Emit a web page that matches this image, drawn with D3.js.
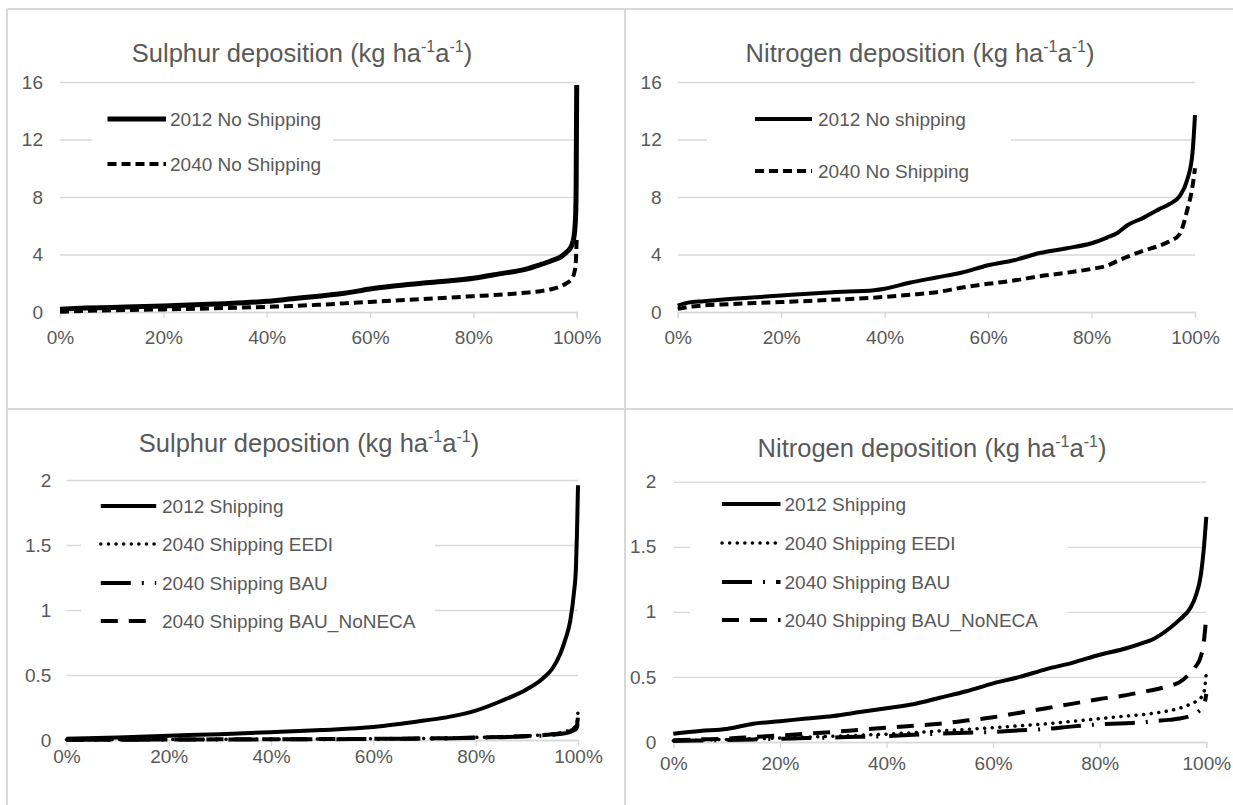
<!DOCTYPE html>
<html>
<head>
<meta charset="utf-8">
<script src="https://cdn.jsdelivr.net/npm/d3@7"></script>
<style>
  body { margin: 0; background: #fff; }
  text { font-family: "Liberation Sans", Arial, sans-serif; fill: #595959; }
</style>
</head>
<body>
<svg id="chart" width="1233" height="805"></svg>
<script>
// ---- data ----
// top-left: sulphur, no shipping
var pctSulNoShip = [0, 5, 10, 20, 30, 40, 45, 50, 55, 60, 65, 70, 75, 80, 85, 90, 93, 95, 97, 98, 99, 99.5, 99.8, 99.9, 100];
var sul2012NoShip = [0.2, 0.27, 0.32, 0.42, 0.56, 0.74, 0.92, 1.1, 1.3, 1.6, 1.82, 2.0, 2.15, 2.35, 2.65, 2.97, 3.3, 3.55, 3.85, 4.15, 4.6, 5.3, 6.8, 9, 15.8];
var sul2040NoShip = [0.02, 0.08, 0.12, 0.18, 0.26, 0.36, 0.42, 0.5, 0.6, 0.7, 0.8, 0.9, 1.0, 1.1, 1.2, 1.34, 1.45, 1.58, 1.8, 2.0, 2.3, 2.7, 3.3, 4.0, 5.2];

// top-right: nitrogen, no shipping
var pctNitNoShip = [0, 2, 5, 10, 20, 30, 38, 40, 45, 50, 55, 60, 65, 70, 75, 80, 83, 85, 87, 90, 93, 95, 97, 98.5, 99.5, 100];
var nit2012NoShip = [0.45, 0.65, 0.75, 0.9, 1.15, 1.38, 1.52, 1.62, 2.05, 2.4, 2.75, 3.25, 3.6, 4.1, 4.42, 4.78, 5.18, 5.5, 6.05, 6.55, 7.14, 7.5, 8.05, 9.2, 11.0, 13.7];
var nit2040NoShip = [0.22, 0.35, 0.46, 0.55, 0.69, 0.85, 1.0, 1.05, 1.2, 1.38, 1.7, 1.96, 2.19, 2.49, 2.72, 3.0, 3.22, 3.55, 3.85, 4.26, 4.6, 4.9, 5.4, 7.1, 8.7, 10.0];

// bottom-left: sulphur, shipping
var pctSulShip = [0, 10, 20, 30, 40, 50, 60, 70, 75, 80, 85, 90, 93, 95, 96.5, 97.5, 98.5, 99.2, 99.6, 99.8, 100];
var sul2012Ship = [0.01, 0.02, 0.033, 0.045, 0.06, 0.077, 0.1, 0.15, 0.18, 0.226, 0.3, 0.39, 0.47, 0.55, 0.66, 0.77, 0.92, 1.13, 1.33, 1.59, 1.96];
var sulEEDI = [0.002, 0.003, 0.004, 0.005, 0.006, 0.007, 0.009, 0.012, 0.015, 0.02, 0.025, 0.032, 0.04, 0.048, 0.056, 0.064, 0.078, 0.095, 0.11, 0.13, 0.22];
var sulBAU = [0.001, 0.002, 0.003, 0.004, 0.005, 0.006, 0.008, 0.011, 0.013, 0.017, 0.022, 0.028, 0.034, 0.04, 0.046, 0.052, 0.062, 0.075, 0.085, 0.1, 0.15];
var sulNoNECA = [0.002, 0.003, 0.004, 0.005, 0.006, 0.007, 0.009, 0.012, 0.014, 0.019, 0.024, 0.03, 0.037, 0.044, 0.051, 0.058, 0.07, 0.085, 0.1, 0.115, 0.18];

// bottom-right: nitrogen, shipping
var pctNitShip = [0, 5, 10, 15, 20, 25, 30, 35, 40, 45, 50, 55, 60, 65, 70, 75, 80, 85, 88, 90, 93, 95, 97, 98, 99, 99.5, 100];
var nit2012Ship = [0.064, 0.085, 0.1, 0.14, 0.16, 0.18, 0.2, 0.23, 0.26, 0.29, 0.34, 0.39, 0.45, 0.5, 0.56, 0.61, 0.67, 0.72, 0.76, 0.79, 0.87, 0.94, 1.03, 1.12, 1.29, 1.47, 1.73];
var nitEEDI = [0.01, 0.015, 0.02, 0.025, 0.03, 0.037, 0.044, 0.052, 0.06, 0.072, 0.085, 0.097, 0.11, 0.125, 0.14, 0.16, 0.18, 0.2, 0.21, 0.22, 0.24, 0.26, 0.29, 0.31, 0.34, 0.37, 0.53];
var nitBAU = [0.008, 0.012, 0.015, 0.02, 0.025, 0.03, 0.035, 0.04, 0.045, 0.055, 0.065, 0.072, 0.077, 0.09, 0.1, 0.12, 0.136, 0.145, 0.15, 0.16, 0.17, 0.18, 0.2, 0.22, 0.25, 0.27, 0.37];
var nitNoNECA = [0.013, 0.02, 0.026, 0.038, 0.05, 0.063, 0.077, 0.094, 0.11, 0.125, 0.14, 0.165, 0.19, 0.225, 0.26, 0.295, 0.33, 0.36, 0.385, 0.4, 0.43, 0.46, 0.53, 0.58, 0.66, 0.76, 0.96];

var xTicks = [0, 20, 40, 60, 80, 100];
var yTicksNoShip = [0, 4, 8, 12, 16];
var yTicksShip = [0, 0.5, 1, 1.5, 2];

// line styles
var styles = {
  solidBold: { width: 5, dash: null, cap: "butt" },
  solid: { width: 4, dash: null, cap: "butt" },
  shortDash: { width: 4, dash: "9,5", cap: "butt" },
  dotted: { width: 3.5, dash: "0.1,7.5", cap: "round" },
  dashDot: { width: 4, dash: "30,11,2,11", cap: "butt" },
  longDash: { width: 4, dash: "17,11", cap: "butt" }
};

// panel layout (pixels)
var panels = [
  {
    title: "Sulphur deposition", tx: 302, ty: 53,
    x0: 60, x1: 576.7, yBot: 312, yTop: 82, ymax: 16, yTicks: yTicksNoShip, yPad: 17, xPad: 13,
    box: [92, 97, 333, 187],
    leg: { x0: 107.5, x1: 166, tx: 170, ys: [119, 164] },
    series: [
      { name: "2012 No Shipping", pct: pctSulNoShip, vals: sul2012NoShip, style: "solidBold" },
      { name: "2040 No Shipping", pct: pctSulNoShip, vals: sul2040NoShip, style: "shortDash" }
    ]
  },
  {
    title: "Nitrogen deposition", tx: 920, ty: 53,
    x0: 677.7, x1: 1195, yBot: 312, yTop: 82, ymax: 16, yTicks: yTicksNoShip, yPad: 16, xPad: 13,
    box: [707, 97, 1011, 192],
    leg: { x0: 755, x1: 812, tx: 818, ys: [119, 171] },
    series: [
      { name: "2012 No shipping", pct: pctNitNoShip, vals: nit2012NoShip, style: "solid" },
      { name: "2040 No Shipping", pct: pctNitNoShip, vals: nit2040NoShip, style: "shortDash" }
    ]
  },
  {
    title: "Sulphur deposition", tx: 309, ty: 443,
    x0: 66.4, x1: 578, yBot: 740, yTop: 480, ymax: 2, yTicks: yTicksShip, yPad: 15, xPad: 4,
    box: [81, 490, 435, 640],
    leg: { x0: 100.8, x1: 156.2, tx: 162, ys: [506, 544, 583, 621] },
    series: [
      { name: "2012 Shipping", pct: pctSulShip, vals: sul2012Ship, style: "solid" },
      { name: "2040 Shipping EEDI", pct: pctSulShip, vals: sulEEDI, style: "dotted" },
      { name: "2040 Shipping BAU", pct: pctSulShip, vals: sulBAU, style: "dashDot" },
      { name: "2040 Shipping BAU_NoNECA", pct: pctSulShip, vals: sulNoNECA, style: "longDash" }
    ]
  },
  {
    title: "Nitrogen deposition", tx: 932, ty: 448,
    x0: 673.3, x1: 1206.3, yBot: 742, yTop: 481.7, ymax: 2, yTicks: yTicksShip, yPad: 17, xPad: 9,
    box: [690, 490, 1068, 640],
    leg: { x0: 722, x1: 780.5, tx: 784.5, ys: [504, 543, 582, 620] },
    series: [
      { name: "2012 Shipping", pct: pctNitShip, vals: nit2012Ship, style: "solid" },
      { name: "2040 Shipping EEDI", pct: pctNitShip, vals: nitEEDI, style: "dotted" },
      { name: "2040 Shipping BAU", pct: pctNitShip, vals: nitBAU, style: "dashDot" },
      { name: "2040 Shipping BAU_NoNECA", pct: pctNitShip, vals: nitNoNECA, style: "longDash" }
    ]
  }
];

var svg = d3.select("#chart");
var grid = "#d9d9d9";

// panel frames
svg.append("rect").attr("width", 1233).attr("height", 805).attr("fill", "#fff");
var frames = [[7, 9, 1233, 9], [7, 409, 1233, 409], [7, 9, 7, 805], [625, 9, 625, 805]];
svg.selectAll("line.frame").data(frames).enter().append("line")
    .attr("class", "frame")
    .attr("x1", function(d) { return d[0]; }).attr("y1", function(d) { return d[1]; })
    .attr("x2", function(d) { return d[2]; }).attr("y2", function(d) { return d[3]; })
    .attr("stroke", grid).attr("stroke-width", 2);

function applyStyle(sel, s) {
  sel.attr("fill", "none").attr("stroke", "#000")
    .attr("stroke-width", s.width)
    .attr("stroke-linecap", s.cap)
    .attr("stroke-linejoin", "round");
  if (s.dash) sel.attr("stroke-dasharray", s.dash);
}

panels.forEach(function(p) {
  var g = svg.append("g");
  var x = d3.scaleLinear().domain([0, 100]).range([p.x0, p.x1]);
  var y = d3.scaleLinear().domain([0, p.ymax]).range([p.yBot, p.yTop]);

  // title with superscripts
  var t = g.append("text").attr("x", p.tx).attr("y", p.ty + 9)
      .attr("text-anchor", "middle").style("font-size", "25.5px");
  t.append("tspan").text(p.title + " (kg ha");
  t.append("tspan").attr("dy", -10).style("font-size", "16px").text("-1");
  t.append("tspan").attr("dy", 10).text("a");
  t.append("tspan").attr("dy", -10).style("font-size", "16px").text("-1");
  t.append("tspan").attr("dy", 10).text(")");

  // y gridlines + labels
  var yAxis = g.append("g").attr("transform", "translate(" + p.x0 + ",0)")
      .call(d3.axisLeft(y).tickValues(p.yTicks).tickSize(-(p.x1 - p.x0)).tickPadding(p.yPad)
        .tickFormat(function(d) { return String(d); }));
  yAxis.select(".domain").remove();
  yAxis.selectAll("line").attr("stroke", grid).attr("stroke-width", 1.3);
  yAxis.selectAll("text").style("font-size", "19px").attr("fill", "#595959")
      .style("font-family", "'Liberation Sans', Arial, sans-serif");

  // x axis
  var xAxis = g.append("g").attr("transform", "translate(0," + p.yBot + ")")
      .call(d3.axisBottom(x).tickValues(xTicks).tickSizeOuter(0).tickSize(6).tickPadding(p.xPad)
        .tickFormat(function(d) { return d + "%"; }));
  xAxis.select(".domain").attr("stroke", grid).attr("stroke-width", 1.3);
  xAxis.selectAll("line").attr("stroke", grid).attr("stroke-width", 1.3);
  xAxis.selectAll("text").style("font-size", "19px").attr("fill", "#595959")
      .style("font-family", "'Liberation Sans', Arial, sans-serif");

  // legend background
  g.append("rect").attr("x", p.box[0]).attr("y", p.box[1])
      .attr("width", p.box[2] - p.box[0]).attr("height", p.box[3] - p.box[1])
      .attr("fill", "#fff");

  // data lines
  var line = d3.line()
      .x(function(d) { return x(d[0]); })
      .y(function(d) { return y(d[1]); })
      .curve(d3.curveMonotoneX);
  p.series.forEach(function(s) {
    var pts = s.pct.map(function(v, i) { return [v, s.vals[i]]; });
    applyStyle(g.append("path").datum(pts).attr("d", line), styles[s.style]);
  });

  // legend
  p.series.forEach(function(s, i) {
    var ly = p.leg.ys[i];
    applyStyle(g.append("line").attr("x1", p.leg.x0).attr("x2", p.leg.x1)
        .attr("y1", ly).attr("y2", ly), styles[s.style]);
    g.append("text").attr("x", p.leg.tx).attr("y", ly + 6.8)
        .style("font-size", "19px").text(s.name);
  });
});
</script>
</body>
</html>
